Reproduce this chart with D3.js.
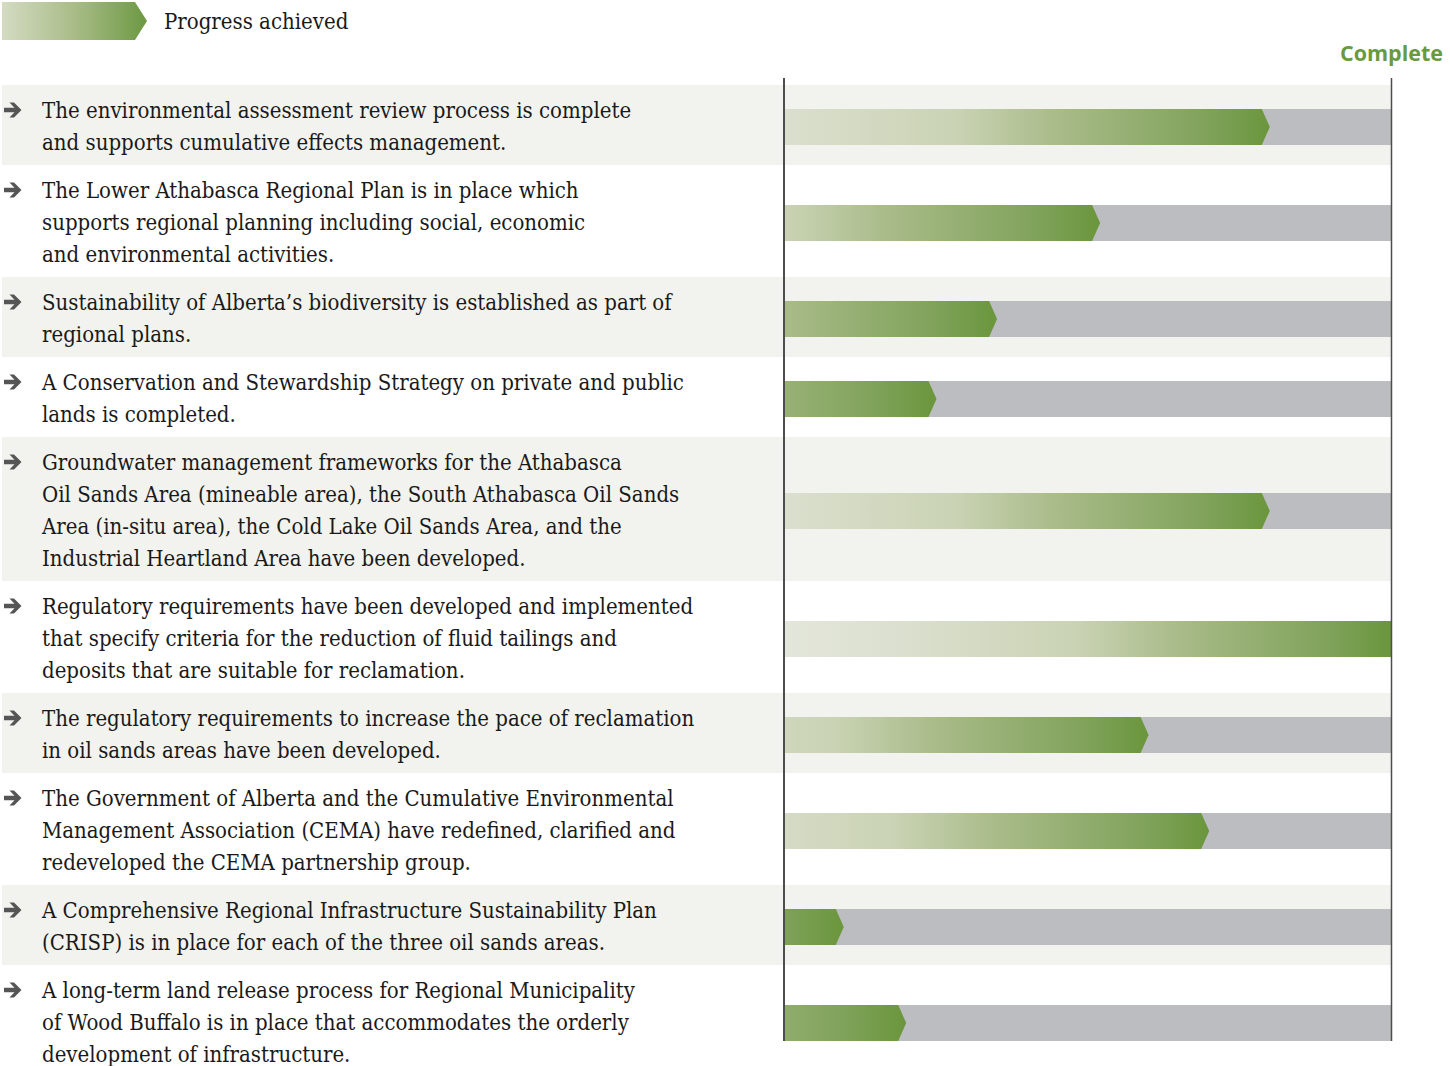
<!DOCTYPE html>
<html>
<head>
<meta charset="utf-8">
<script src="https://cdn.jsdelivr.net/npm/d3@7"></script>
<style>
  body { margin: 0; background: #fff; }
  svg { display: block; }
  .label { font-family: 'DejaVu Serif Condensed', 'DejaVu Serif', serif; font-stretch: condensed; font-size: 22px; fill: #1a1a1a; }
</style>
</head>
<body>
<svg width="1450" height="1066"></svg>
<script>
const legendLabel = 'Progress achieved';
const completeLabel = 'Complete';

const goals = [
  ['The environmental assessment review process is complete',
   'and supports cumulative effects management.'],
  ['The Lower Athabasca Regional Plan is in place which',
   'supports regional planning including social, economic',
   'and environmental activities.'],
  ['Sustainability of Alberta\u2019s biodiversity is established as part of',
   'regional plans.'],
  ['A Conservation and Stewardship Strategy on private and public',
   'lands is completed.'],
  ['Groundwater management frameworks for the Athabasca',
   'Oil Sands Area (mineable area), the South Athabasca Oil Sands',
   'Area (in-situ area), the Cold Lake Oil Sands Area, and the',
   'Industrial Heartland Area have been developed.'],
  ['Regulatory requirements have been developed and implemented',
   'that specify criteria for the reduction of fluid tailings and',
   'deposits that are suitable for reclamation.'],
  ['The regulatory requirements to increase the pace of reclamation',
   'in oil sands areas have been developed.'],
  ['The Government of Alberta and the Cumulative Environmental',
   'Management Association (CEMA) have redefined, clarified and',
   'redeveloped the CEMA partnership group.'],
  ['A Comprehensive Regional Infrastructure Sustainability Plan',
   '(CRISP) is in place for each of the three oil sands areas.'],
  ['A long-term land release process for Regional Municipality',
   'of Wood Buffalo is in place that accommodates the orderly',
   'development of infrastructure.']
];

// share of progress toward "Complete"
const progress = [0.80, 0.52, 0.35, 0.25, 0.80, 1.00, 0.60, 0.70, 0.097, 0.20];

const svg = d3.select('svg');
const defs = svg.append('defs');

const x = d3.scaleLinear().domain([0, 1]).range([785, 1391]);
const lineH = 32;
const top0 = 85;
const tipW = 8;
const barH = 36;

// row layout from number of text lines
let acc = top0;
const rows = goals.map((lines, i) => {
  const h = lines.length * lineH + 16;
  const r = { i, lines, y: acc, h, v: progress[i] };
  acc += h;
  return r;
});

// legend gradient
const lg = defs.append('linearGradient').attr('id', 'legendGrad')
  .attr('x1', 0).attr('x2', 1).attr('y1', 0).attr('y2', 0);
lg.append('stop').attr('offset', 0).attr('stop-color', '#d4dbc2');
lg.append('stop').attr('offset', 0.5).attr('stop-color', '#a9bc88');
lg.append('stop').attr('offset', 1).attr('stop-color', '#6c9942');

const legend = svg.append('g');
legend.append('path')
  .attr('d', 'M2,2 L135,2 L147,21 L135,40 L2,40 Z')
  .attr('fill', 'url(#legendGrad)');
legend.append('text')
  .attr('class', 'label')
  .attr('x', 164).attr('y', 29)
  .text(legendLabel);

svg.append('text')
  .attr('x', 1443).attr('y', 61)
  .attr('text-anchor', 'end')
  .style('font-family', "'Open Sans', sans-serif")
  .style('font-weight', 700)
  .style('font-size', '21.5px')
  .style('fill', '#6a9a3e')
  .text(completeLabel);

// row backgrounds
svg.append('g').selectAll('rect')
  .data(rows.filter(r => r.i % 2 === 0))
  .join('rect')
    .attr('x', 2).attr('y', r => r.y)
    .attr('width', x(1) - 2).attr('height', r => r.h)
    .attr('fill', '#f2f3ee');

// bars
const barY = r => r.y + r.h / 2 + 2 - barH / 2;
const barG = svg.append('g');

barG.selectAll('rect.rest')
  .data(rows)
  .join('rect')
    .attr('class', 'rest')
    .attr('x', x(0)).attr('y', barY)
    .attr('width', x(1) - x(0)).attr('height', barH)
    .attr('fill', '#bcbdc1');

rows.forEach(r => {
  const end = x(r.v);
  const g = defs.append('linearGradient')
    .attr('id', 'grad' + r.i)
    .attr('gradientUnits', 'userSpaceOnUse')
    .attr('x1', end - (x(1) - x(0))).attr('x2', end)
    .attr('y1', 0).attr('y2', 0);
  [[0, '#e3e6da'], [0.2, '#dbdfce'], [0.48, '#cad3b4'],
   [0.65, '#a9bb89'], [0.9, '#7fa25a'], [1, '#6a963c']]
    .forEach(([o, c]) => g.append('stop').attr('offset', o).attr('stop-color', c));
});

barG.selectAll('path.done')
  .data(rows)
  .join('path')
    .attr('class', 'done')
    .attr('d', r => {
      const y0 = barY(r), y1 = y0 + barH, ym = y0 + barH / 2;
      const end = x(r.v);
      if (r.v >= 1) return `M${x(0)},${y0}L${end},${y0}L${end},${y1}L${x(0)},${y1}Z`;
      return `M${x(0)},${y0}L${end - tipW},${y0}L${end},${ym}L${end - tipW},${y1}L${x(0)},${y1}Z`;
    })
    .attr('fill', r => `url(#grad${r.i})`);

// axis lines
const yTop = 78, yBot = barY(rows[rows.length - 1]) + barH;
svg.append('line')
  .attr('x1', 784).attr('x2', 784).attr('y1', yTop).attr('y2', yBot)
  .attr('stroke', '#4d4d4d').attr('stroke-width', 2);
svg.append('line')
  .attr('x1', x(1) + 0.5).attr('x2', x(1) + 0.5).attr('y1', yTop).attr('y2', yBot)
  .attr('stroke', '#4d4d4d').attr('stroke-width', 1.5);

// labels
const labelG = svg.append('g').selectAll('g')
  .data(rows)
  .join('g')
    .attr('transform', r => `translate(0,${r.y})`);

labelG.append('path')
  .attr('d', 'M4,-2.2 L14.5,-2.2 L9.5,-7.5 L14,-7.5 L21.5,0 L14,7.5 L9.5,7.5 L14.5,2.2 L4,2.2 Z')
  .attr('transform', 'translate(0,25)')
  .attr('fill', '#555');

labelG.append('text')
  .attr('class', 'label')
  .selectAll('tspan')
  .data(r => r.lines)
  .join('tspan')
    .attr('x', 42)
    .attr('y', (d, i) => 33 + i * lineH)
    .text(d => d);
</script>
</body>
</html>
